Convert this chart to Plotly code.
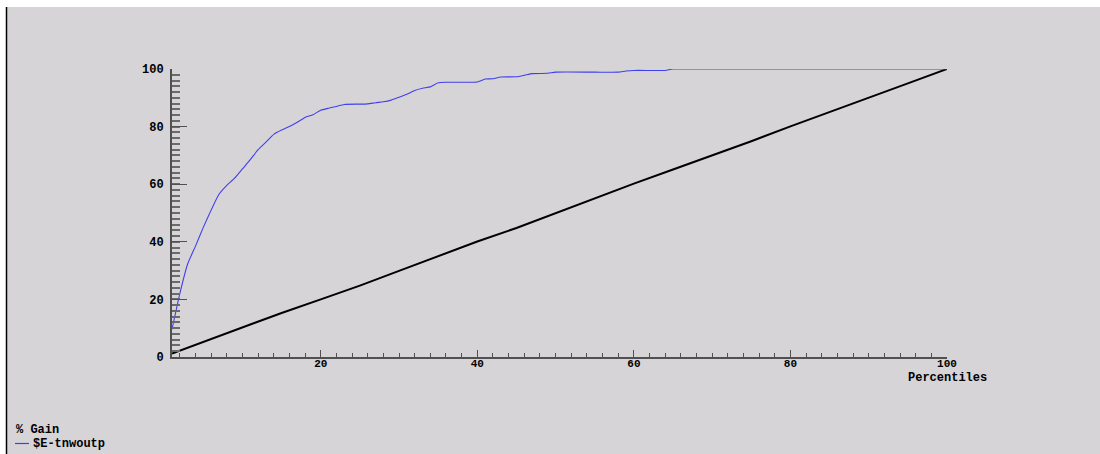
import plotly.graph_objects as go

# Cumulative gain for the model, by percentile of the scored population
model_pct = [1, 2, 3, 4, 5, 6, 7, 8, 9, 10, 11, 12, 13, 14, 15, 16, 17, 18, 19, 20,
             21, 22, 23, 25, 26, 27, 28, 29, 30, 31, 32, 33, 34, 35, 36, 38, 40, 41,
             42, 43, 45, 46, 47, 49, 50, 55, 58, 59, 60, 62, 64, 65, 70, 80, 90, 100]
model_gain = [9.6, 22.0, 32.3, 38.5, 45.0, 51.0, 56.5, 59.6, 62.1, 65.3, 68.5, 72.0,
              74.6, 77.3, 78.8, 80.0, 81.5, 83.2, 84.1, 85.7, 86.4, 87.0, 87.7, 87.8,
              87.9, 88.3, 88.6, 89.2, 90.2, 91.2, 92.5, 93.3, 93.8, 95.2, 95.4, 95.4,
              95.5, 96.5, 96.6, 97.2, 97.3, 97.8, 98.4, 98.5, 98.9, 98.9, 98.9, 99.3,
              99.5, 99.5, 99.5, 100.0, 100.0, 100.0, 100.0, 100.0]

# Baseline (random selection)
base_pct = [1, 5, 10, 15, 20, 25, 30, 35, 40, 45, 50, 55, 60, 65, 70, 75, 80, 85, 90, 95, 100]
base_gain = [1.2, 5.3, 10.2, 15.3, 20.0, 24.8, 29.9, 34.9, 40.1, 44.8, 50.0, 55.1,
             60.2, 65.1, 70.0, 74.9, 80.1, 85.0, 90.0, 95.0, 100.0]

x_ticks = [20, 40, 60, 80, 100]
y_ticks = [0, 20, 40, 60, 80, 100]

series_name = "$E-tnwoutp"
y_title = "% Gain"
x_title = "Percentiles"

BG = "#d6d4d7"
AXIS = "#505050"
BLUE = "#4040ee"
FONT = dict(family="Liberation Mono", size=12, color="black", weight="bold")
TICK_FONT = dict(family="Liberation Mono", size=11, color="black", weight="bold")

fig = go.Figure()
fig.add_trace(go.Scatter(x=base_pct, y=base_gain, mode="lines",
                         line=dict(color="black", width=2), showlegend=False,
                         hoverinfo="skip"))
fig.add_trace(go.Scatter(x=model_pct, y=model_gain, mode="lines", name=series_name,
                         line=dict(color=BLUE, width=1.1, shape="spline", smoothing=0.5),
                         showlegend=False))

W, H = 1100, 454
ML, MR, MT, MB = 172, 153, 69, 97
PW, PH = W - ML - MR, H - MT - MB


def px_x(px):
    return (px - ML) / PW


def px_y(py):
    return (H - MB - py) / PH


fig.update_layout(
    width=W, height=H,
    margin=dict(l=ML, r=MR, t=MT, b=MB, pad=0),
    paper_bgcolor=BG, plot_bgcolor=BG,
    font=FONT,
    xaxis=dict(range=[1, 100], tickvals=x_ticks, ticks="inside", ticklen=7,
               tickcolor=AXIS, tickwidth=1, showline=True, linecolor=AXIS,
               linewidth=1.5, showgrid=False, zeroline=False, tickfont=TICK_FONT,
               ticklabelstandoff=-5,
               minor=dict(dtick=2, tick0=0, ticks="inside", ticklen=4,
                          tickcolor=AXIS, tickwidth=1, showgrid=False)),
    yaxis=dict(range=[0, 100], tickvals=y_ticks, ticks="inside", ticklen=15,
               tickcolor=AXIS, tickwidth=1, showline=True, linecolor=AXIS,
               linewidth=2, showgrid=False, zeroline=False, tickfont=FONT,
               ticklabelstandoff=4,
               minor=dict(dtick=2, tick0=0, ticks="inside", ticklen=8,
                          tickcolor="#6a6a6a", tickwidth=1.5, showgrid=False)),
    shapes=[
        # white frame strips at top and left, black rule on the left
        dict(type="rect", xref="paper", yref="paper", x0=px_x(0), x1=px_x(W),
             y0=px_y(7), y1=px_y(0), fillcolor="white", line=dict(width=0), layer="above"),
        dict(type="rect", xref="paper", yref="paper", x0=px_x(0), x1=px_x(6),
             y0=px_y(H), y1=px_y(0), fillcolor="white", line=dict(width=0), layer="above"),
        dict(type="line", xref="paper", yref="paper", x0=px_x(6.5), x1=px_x(6.5),
             y0=px_y(H), y1=px_y(7), line=dict(color="black", width=1.5), layer="above"),
        # legend sample line
        dict(type="line", xref="paper", yref="paper", x0=px_x(15), x1=px_x(29),
             y0=px_y(443.5), y1=px_y(443.5), line=dict(color=BLUE, width=1.2)),
    ],
    annotations=[
        dict(text=x_title, xref="x", x=100, yref="paper", y=0, yanchor="middle",
             xanchor="center", yshift=-21, showarrow=False, font=FONT),
        dict(text=y_title, xref="paper", x=px_x(14), xanchor="left",
             yref="paper", y=px_y(430), yanchor="middle", showarrow=False, font=FONT),
        dict(text=series_name, xref="paper", x=px_x(31), xanchor="left",
             yref="paper", y=px_y(443.5), yanchor="middle", showarrow=False, font=FONT),
    ],
)

fig.write_html("out.html")
